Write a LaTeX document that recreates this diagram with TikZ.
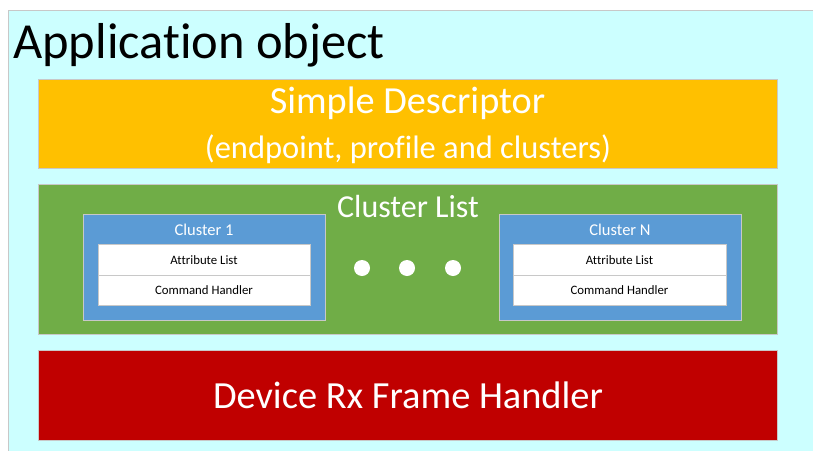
\documentclass[tikz,border=0pt]{standalone}
\usepackage{fontspec}
\setmainfont[Ligatures=NoCommon]{Carlito}
\definecolor{appbg}{HTML}{CCFFFF}
\definecolor{sdyellow}{HTML}{FFC000}
\definecolor{clgreen}{HTML}{70AD47}
\definecolor{clblue}{HTML}{5B9BD5}
\definecolor{rxred}{HTML}{C00000}
\definecolor{edge}{HTML}{C8C8C8}
\tikzset{
  panel/.style={draw=edge, line width=0.8pt},
  wtext/.style={text=white, inner sep=0pt, anchor=base},
  btext/.style={text=black, inner sep=0pt, anchor=base},
}
\begin{document}
\begin{tikzpicture}[x=1pt,y=-1pt]
\useasboundingbox (0,0) rectangle (813,450);
\fill[white] (0,0) rectangle (813,450);
% outer application box
\path[panel, fill=appbg] (8,10) rectangle (830,460);
\node[btext, anchor=base west, font=\fontsize{50.5}{58}\selectfont] (title) at (13,58) {Applicat\kern0pt ion object};
% simple descriptor
\path[panel, fill=sdyellow] (38,79) rectangle (777,168);
\node[wtext, font=\fontsize{38.3}{44}\selectfont] (sd1) at (407.5,113) {Simple Descriptor};
\node[wtext, font=\fontsize{32.5}{38}\selectfont] (sd2) at (408,158) {(endpoint, profile and clusters)};
% cluster list
\path[panel, fill=clgreen] (38,184) rectangle (777,334);
\node[wtext, font=\fontsize{32}{37}\selectfont] (cl) at (408,217) {Cluster List};
% cluster 1
\path[panel, fill=clblue] (83,214) rectangle (325,320);
\node[wtext, font=\fontsize{16.5}{19}\selectfont] (c1) at (204,235) {Cluster 1};
\path[panel, fill=white] (98,244) rectangle (310,275);
\path[panel, fill=white] (98,275) rectangle (310,305);
\node[btext, font=\fontsize{12.8}{15}\selectfont] (a1) at (204,264.5) {Attribute List};
\node[btext, font=\fontsize{12.8}{15}\selectfont] (h1) at (204,294.5) {Command Handler};
% cluster N
\path[panel, fill=clblue] (499,214) rectangle (741,320);
\node[wtext, font=\fontsize{16.5}{19}\selectfont] (cn) at (620,235) {Cluster N};
\path[panel, fill=white] (513,244) rectangle (726,275);
\path[panel, fill=white] (513,275) rectangle (726,305);
\node[btext, font=\fontsize{12.8}{15}\selectfont] (an) at (619.5,264.5) {Attribute List};
\node[btext, font=\fontsize{12.8}{15}\selectfont] (hn) at (619.5,294.5) {Command Handler};
% dots
\fill[white] (362,268) circle (8);
\fill[white] (407,268) circle (8);
\fill[white] (453,268) circle (8);
% device rx frame handler
\path[panel, fill=rxred] (38,350) rectangle (777,440);
\node[wtext, font=\fontsize{38.4}{45}\selectfont] (rx) at (408,408) {Device Rx Frame Handler};
\end{tikzpicture}
\end{document}
